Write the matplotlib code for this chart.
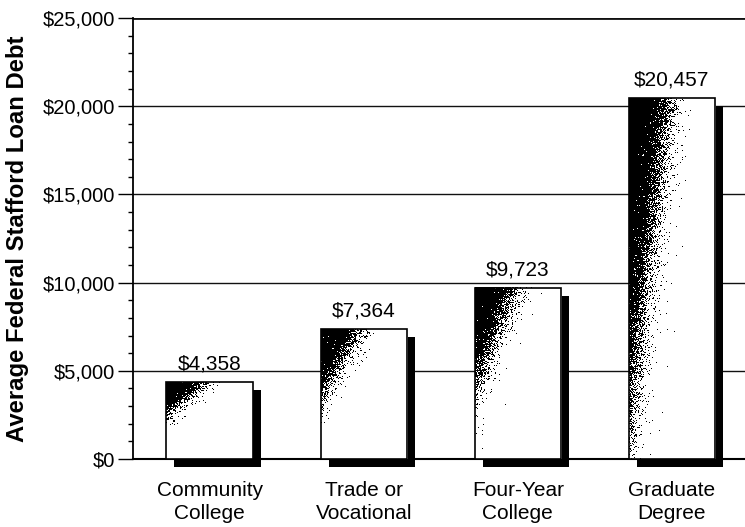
import numpy as np
import matplotlib
matplotlib.use('Agg')
from matplotlib import pyplot as plt
from matplotlib.patches import Rectangle
from matplotlib.ticker import MultipleLocator, FixedLocator
from matplotlib.transforms import ScaledTranslation

# Average Stafford loan debt by type of school
categories = ['Community\nCollege', 'Trade or\nVocational', 'Four-Year\nCollege', 'Graduate\nDegree']
debt = [4358, 7364, 9723, 20457]
value_labels = ['$4,358', '$7,364', '$9,723', '$20,457']
y_ticks = [0, 5000, 10000, 15000, 20000, 25000]
y_tick_labels = ['$0', '$5,000', '$10,000', '$15,000', '$20,000', '$25,000']

plt.rcParams['font.family'] = ['Liberation Sans', 'DejaVu Sans']

fig = plt.figure(figsize=(7.45, 5.27), dpi=100)
ax = fig.add_axes([0.1785, 0.129, 0.8215, 0.8368])

ymax = 25000
bar_w = 0.56
rng = np.random.default_rng(7)


def stipple(nrows, ncols, reach):
    # dithered dark corner fading from the top-left of a bar
    u = np.linspace(0, 1, ncols)[None, :]
    v = np.linspace(0, 1, nrows)[:, None]
    s = u / 0.5 + v / reach
    p = 1 / (1 + np.exp((s - 0.95) / 0.11))
    dots = rng.random((nrows, ncols)) < p
    return np.where(dots, 0.0, 1.0)


# gridlines behind the bars
for t in y_ticks[1:]:
    ax.axhline(t, color='#111111', lw=2.0 if t == ymax else 1.0, zorder=1)

shadow_tr = ax.transData + ScaledTranslation(8 / 100, -8 / 100, fig.dpi_scale_trans)
px_h = 441
for i, (val, lab) in enumerate(zip(debt, value_labels)):
    x0 = i - bar_w / 2
    # drop shadow
    ax.add_patch(Rectangle((x0, 0), bar_w, val, facecolor='black', edgecolor='none',
                           transform=shadow_tr, clip_on=False, zorder=2))
    # bar face with stippled shading
    nrows = max(int(val / ymax * px_h), 2)
    reach = 0.35 + 0.6 * val / max(debt)
    ax.imshow(stipple(nrows, 86, reach), cmap='gray', vmin=0, vmax=1,
              extent=(x0, x0 + bar_w, 0, val), aspect='auto',
              interpolation='nearest', zorder=3)
    ax.add_patch(Rectangle((x0, 0), bar_w, val, facecolor='none', edgecolor='black',
                           lw=1.2, zorder=4))
    ax.annotate(lab, (i, val), xytext=(0, 6), textcoords='offset points',
                ha='center', va='bottom', fontsize=15)

ax.set_xlim(-0.497, 3.474)
ax.set_ylim(0, ymax)

ax.yaxis.set_major_locator(FixedLocator(y_ticks))
ax.set_yticklabels(y_tick_labels, fontsize=14.5)
ax.yaxis.set_minor_locator(MultipleLocator(1000))
ax.tick_params(axis='y', which='major', length=11, width=1, pad=2)
ax.tick_params(axis='y', which='minor', length=3.5, width=1)

ax.set_xticks(range(len(categories)))
ax.set_xticklabels(categories, fontsize=15, linespacing=1.25)
ax.tick_params(axis='x', length=0, pad=16)

ax.set_ylabel('Average Federal Stafford Loan Debt', fontsize=17.2, fontweight='bold')
ax.yaxis.set_label_coords(-0.170, 0.5)

for side in ['top', 'right']:
    ax.spines[side].set_visible(False)
ax.spines['left'].set_linewidth(1.3)
ax.spines['bottom'].set_linewidth(1.5)
ax.spines['bottom'].set_zorder(1.5)

fig.savefig('out.png', dpi=100)
